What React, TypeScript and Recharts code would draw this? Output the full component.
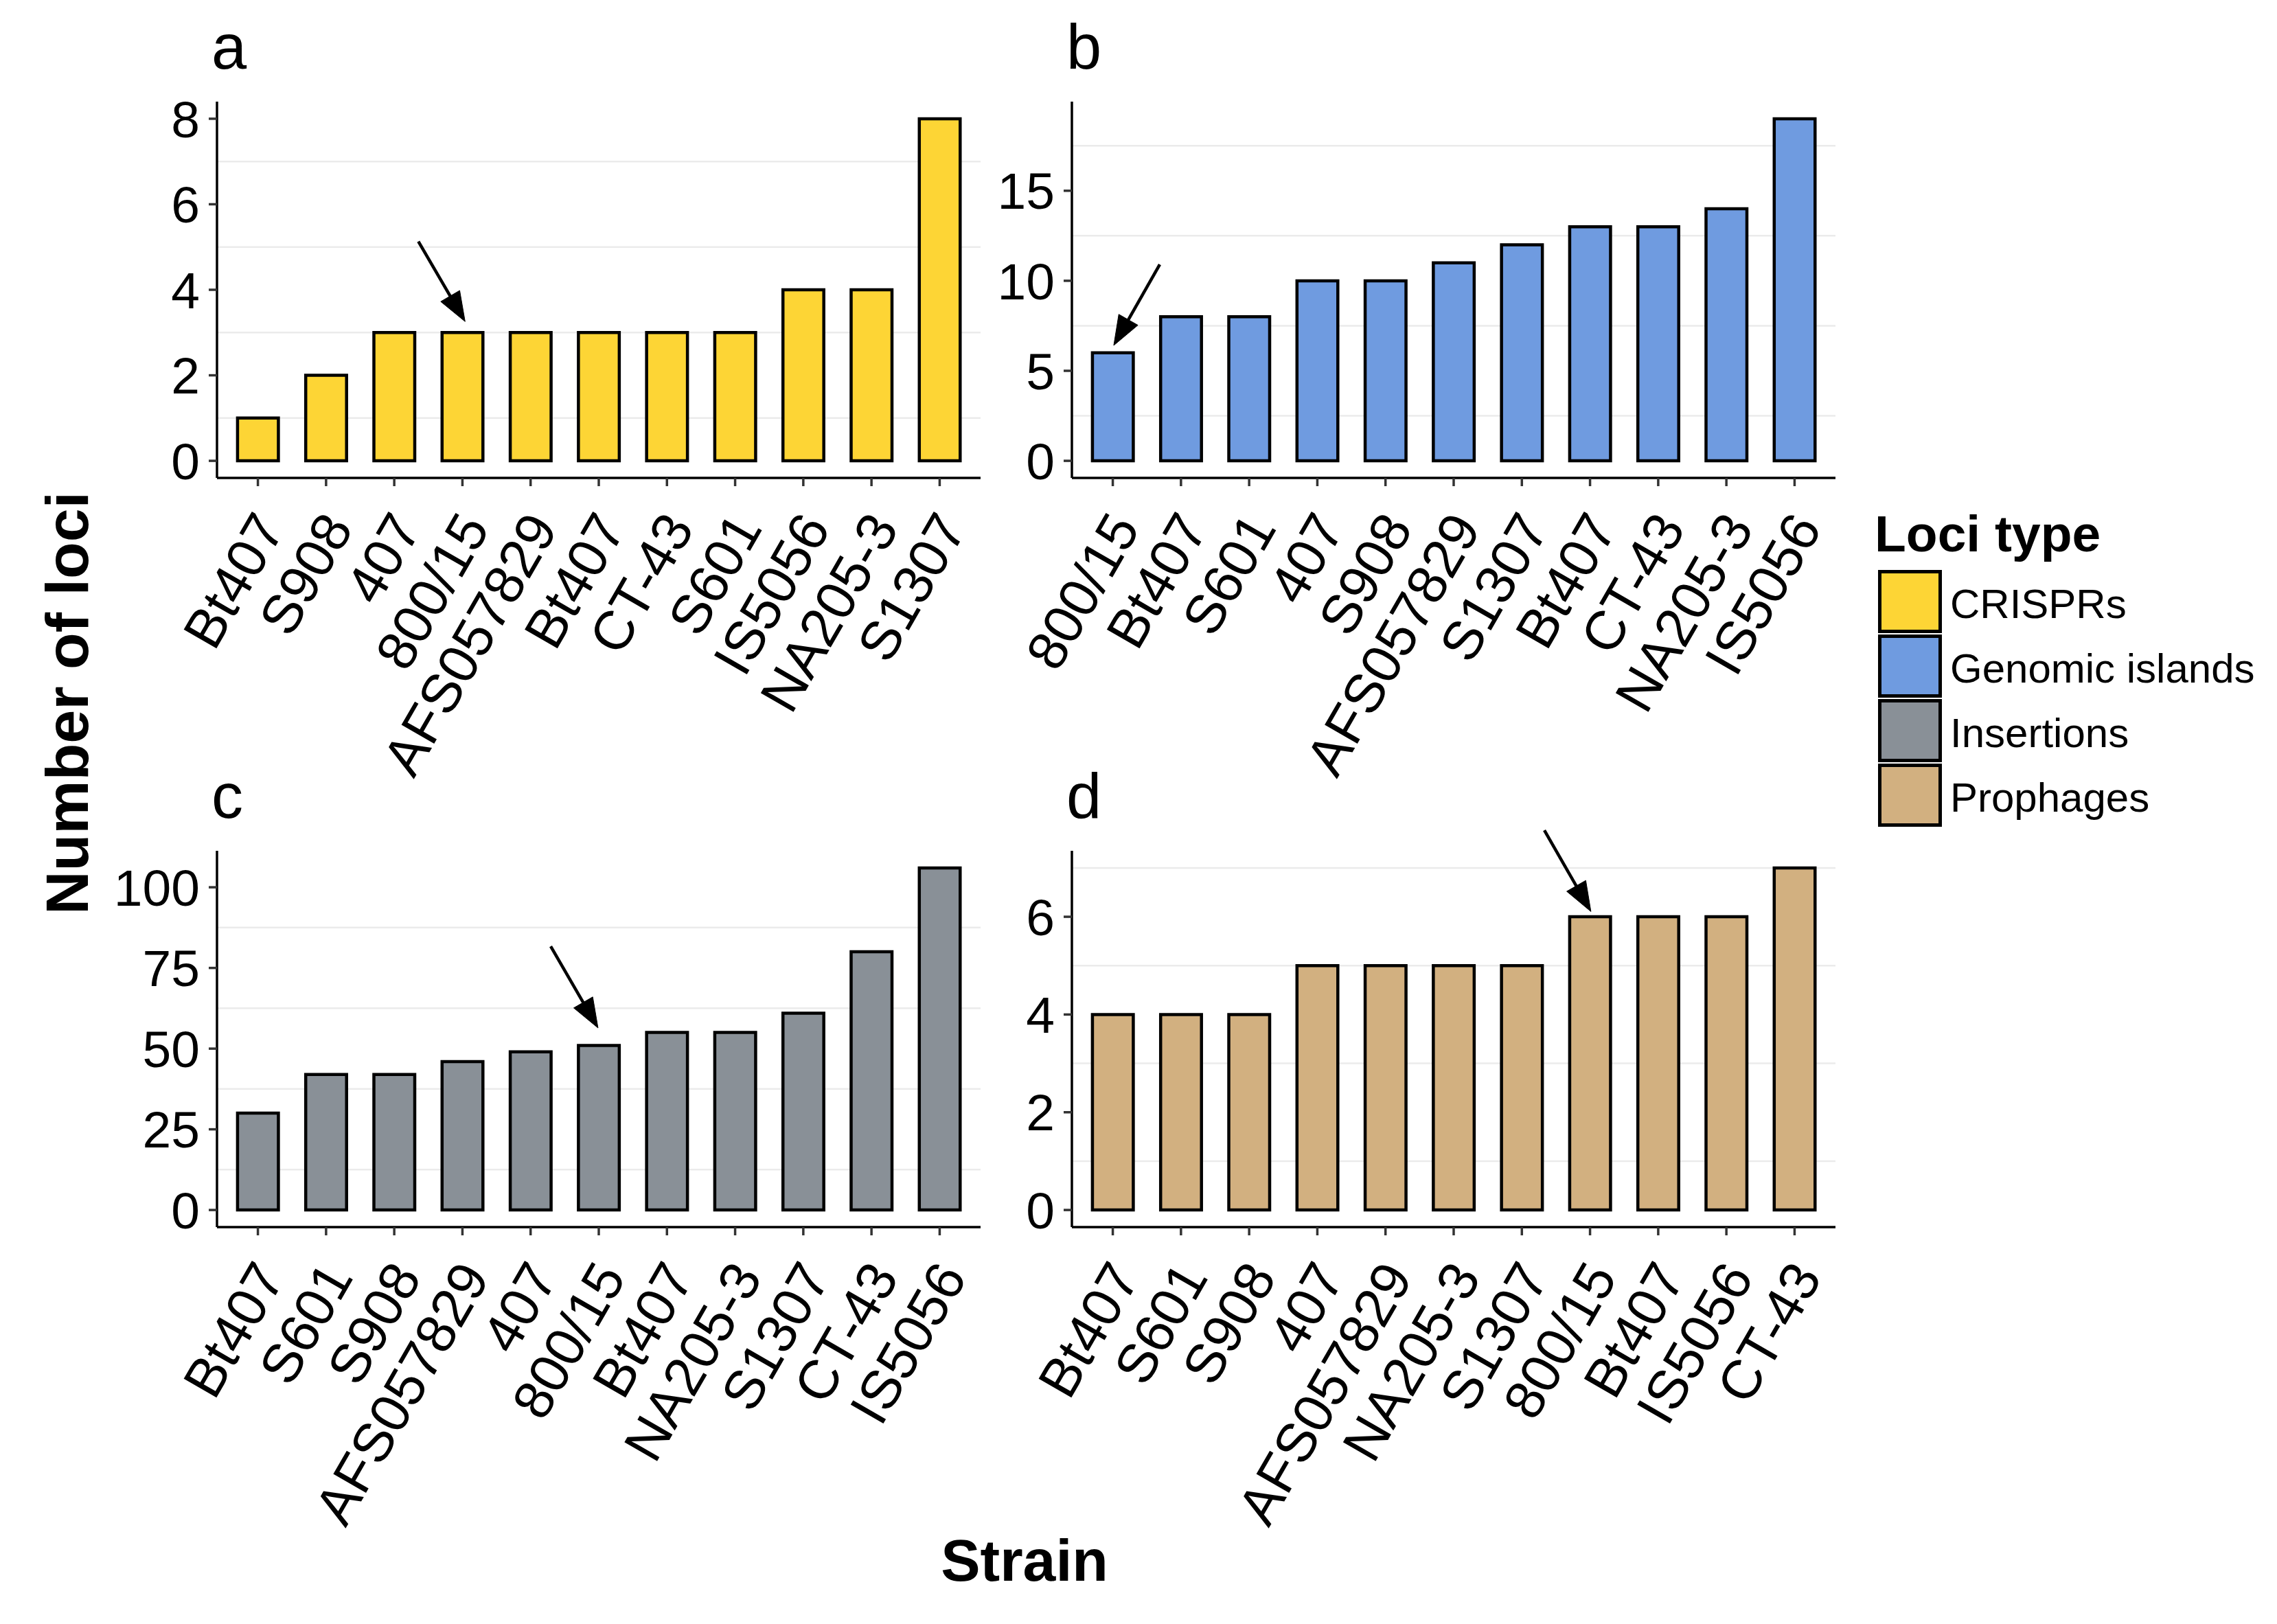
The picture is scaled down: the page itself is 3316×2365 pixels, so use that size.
import React from "react";
import { BarChart, Bar, XAxis, YAxis, CartesianGrid, ReferenceLine } from "recharts";

const FONT = "'Liberation Sans', Arial, Helvetica, sans-serif";

// ---------- data ----------
const namesA = ["Bt407", "S908", "407", "800/15", "AFS057829", "Bt407", "CT-43", "S601", "IS5056", "NA205-3", "S1307"];
const valuesA = [1, 2, 3, 3, 3, 3, 3, 3, 4, 4, 8];

const namesB = ["800/15", "Bt407", "S601", "407", "S908", "AFS057829", "S1307", "Bt407", "CT-43", "NA205-3", "IS5056"];
const valuesB = [6, 8, 8, 10, 10, 11, 12, 13, 13, 14, 19];

const namesC = ["Bt407", "S601", "S908", "AFS057829", "407", "800/15", "Bt407", "NA205-3", "S1307", "CT-43", "IS5056"];
const valuesC = [30, 42, 42, 46, 49, 51, 55, 55, 61, 80, 106];

const namesD = ["Bt407", "S601", "S908", "407", "AFS057829", "NA205-3", "S1307", "800/15", "Bt407", "IS5056", "CT-43"];
const valuesD = [4, 4, 4, 5, 5, 5, 5, 6, 6, 6, 7];

const ticksA = [0, 2, 4, 6, 8];
const ticksB = [0, 5, 10, 15];
const ticksC = [0, 25, 50, 75, 100];
const ticksD = [0, 2, 4, 6];

const gridA = [1, 3, 5, 7];
const gridB = [2.5, 7.5, 12.5, 17.5];
const gridC = [12.5, 37.5, 62.5, 87.5];
const gridD = [1, 3, 5, 7];

const lociTypes = ["CRISPRs", "Genomic islands", "Insertions", "Prophages"];
const lociColors = ["#FDD535", "#6F9BE0", "#899097", "#D2B080"];

// arrow annotations (data coordinates: category index, value)
const arrowA = [{ x: 3.354, y: 5.13 }, { x: 4.039, y: 3.257 }];
const arrowB = [{ x: 1.689, y: 10.91 }, { x: 1.014, y: 6.41 }];
const arrowC = [{ x: 5.295, y: 81.7 }, { x: 5.989, y: 56.4 }];
const arrowD = [{ x: 7.33, y: 7.77 }, { x: 8.013, y: 6.107 }];

const panelLetters = ["a", "b", "c", "d"];

// ---------- components ----------
const ArrowShape = (props: any) => {
  const { x1, y1, x2, y2 } = props;
  const dx = x2 - x1;
  const dy = y2 - y1;
  const len = Math.sqrt(dx * dx + dy * dy) || 1;
  const ux = dx / len;
  const uy = dy / len;
  const headLen = 43;
  const halfW = 16;
  const bx = x2 - ux * headLen;
  const by = y2 - uy * headLen;
  const px = -uy;
  const py = ux;
  return (
    <g>
      <line x1={x1} y1={y1} x2={bx + ux * 4} y2={by + uy * 4} stroke="#000" strokeWidth={4.5} />
      <polygon
        points={`${x2},${y2} ${bx + px * halfW},${by + py * halfW} ${bx - px * halfW},${by - py * halfW}`}
        fill="#000"
        stroke="#000"
        strokeWidth={1}
      />
    </g>
  );
};

const makeXTick = (names: string[]) => (props: any) => {
  const { x, y, payload } = props;
  const ax = x + 41;
  const ay = y + 61;
  const label = names[Math.round(payload.value) - 1];
  return (
    <text
      x={ax}
      y={ay}
      transform={`rotate(-60, ${ax}, ${ay})`}
      textAnchor="end"
      fontSize={80}
      fontFamily={FONT}
      fill="#000"
    >
      {label}
    </text>
  );
};

type PanelProps = {
  names: string[];
  values: number[];
  color: string;
  yDomain: [number, number];
  yTicks: number[];
  grid: number[];
  arrow: { x: number; y: number }[];
  left: number;
  top: number;
  width: number;
  marginLeft: number;
  marginRight: number;
};

const Panel = (p: PanelProps) => {
  const data = p.names.map((n, i) => ({ idx: i + 1, name: n, value: p.values[i] }));
  const idxTicks = p.names.map((_, i) => i + 1);
  return (
    <div style={{ position: "absolute", left: p.left, top: p.top }}>
      <BarChart
        width={p.width}
        height={1200}
        data={data}
        margin={{ top: 148, right: p.marginRight, left: p.marginLeft, bottom: 54 }}
      >
        <CartesianGrid vertical={false} horizontalValues={p.grid} stroke="#EBEBEB" strokeWidth={2.5} />
        <XAxis
          dataKey="idx"
          type="number"
          domain={[0.4, p.names.length + 0.6]}
          ticks={idxTicks}
          interval={0}
          allowDataOverflow
          height={450}
          tickSize={12}
          tickMargin={0}
          axisLine={{ stroke: "#000", strokeWidth: 3.5 }}
          tickLine={{ stroke: "#333", strokeWidth: 3.5 }}
          tick={makeXTick(p.names)}
        />
        <YAxis
          type="number"
          domain={p.yDomain}
          ticks={p.yTicks}
          allowDataOverflow
          interval={0}
          width={200}
          tickSize={12}
          tickMargin={13}
          axisLine={{ stroke: "#000", strokeWidth: 3.5 }}
          tickLine={{ stroke: "#333", strokeWidth: 3.5 }}
          tick={{ fontSize: 75, fontFamily: FONT, fill: "#000" }}
        />
        <Bar dataKey="value" fill={p.color} stroke="#000" strokeWidth={4.5} barSize={59.5} isAnimationActive={false} />
        <ReferenceLine segment={p.arrow} ifOverflow="visible" shape={ArrowShape} />
      </BarChart>
    </div>
  );
};

export default function App() {
  const legendTop = 830;
  const pitch = 94;
  return (
    <div
      style={{
        position: "absolute",
        left: 0,
        top: 0,
        width: 3316,
        height: 2365,
        background: "#fff",
        overflow: "hidden",
        fontFamily: FONT,
      }}
    >
      <Panel names={namesA} values={valuesA} color={lociColors[0]} yDomain={[-0.4, 8.4]} yTicks={ticksA} grid={gridA}
        arrow={arrowA} left={0} top={0} width={1500} marginLeft={116} marginRight={72} />
      <Panel names={namesB} values={valuesB} color={lociColors[1]} yDomain={[-0.95, 19.95]} yTicks={ticksB} grid={gridB}
        arrow={arrowB} left={1250} top={0} width={1450} marginLeft={111} marginRight={27} />
      <Panel names={namesC} values={valuesC} color={lociColors[2]} yDomain={[-5.3, 111.3]} yTicks={ticksC} grid={gridC}
        arrow={arrowC} left={0} top={1091} width={1500} marginLeft={116} marginRight={72} />
      <Panel names={namesD} values={valuesD} color={lociColors[3]} yDomain={[-0.35, 7.35]} yTicks={ticksD} grid={gridD}
        arrow={arrowD} left={1250} top={1091} width={1450} marginLeft={111} marginRight={27} />

      <svg width={3316} height={2365} style={{ position: "absolute", left: 0, top: 0, pointerEvents: "none" }}>
        {/* panel letters */}
        <text x={308} y={100} fontSize={92} fontFamily={FONT} fill="#000">{panelLetters[0]}</text>
        <text x={1553} y={100} fontSize={92} fontFamily={FONT} fill="#000">{panelLetters[1]}</text>
        <text x={308} y={1191} fontSize={92} fontFamily={FONT} fill="#000">{panelLetters[2]}</text>
        <text x={1553} y={1191} fontSize={92} fontFamily={FONT} fill="#000">{panelLetters[3]}</text>

        {/* axis titles */}
        <text x={128} y={1024} transform="rotate(-90, 128, 1024)" textAnchor="middle" fontSize={88} fontWeight="bold"
          fontFamily={FONT} fill="#000">Number of loci</text>
        <text x={1492} y={2302} textAnchor="middle" fontSize={86} fontWeight="bold" fontFamily={FONT} fill="#000">Strain</text>

        {/* legend */}
        <text x={2730} y={803} fontSize={75} fontWeight="bold" fontFamily={FONT} fill="#000">Loci type</text>
        {lociTypes.map((t, i) => (
          <g key={t}>
            <rect x={2737.5} y={legendTop + i * pitch + 2.5} width={88} height={87} fill={lociColors[i]} stroke="#000" strokeWidth={5} />
            <text x={2840} y={legendTop + i * pitch + 46 + 24} fontSize={60} fontFamily={FONT} fill="#000">{t}</text>
          </g>
        ))}
      </svg>
    </div>
  );
}
